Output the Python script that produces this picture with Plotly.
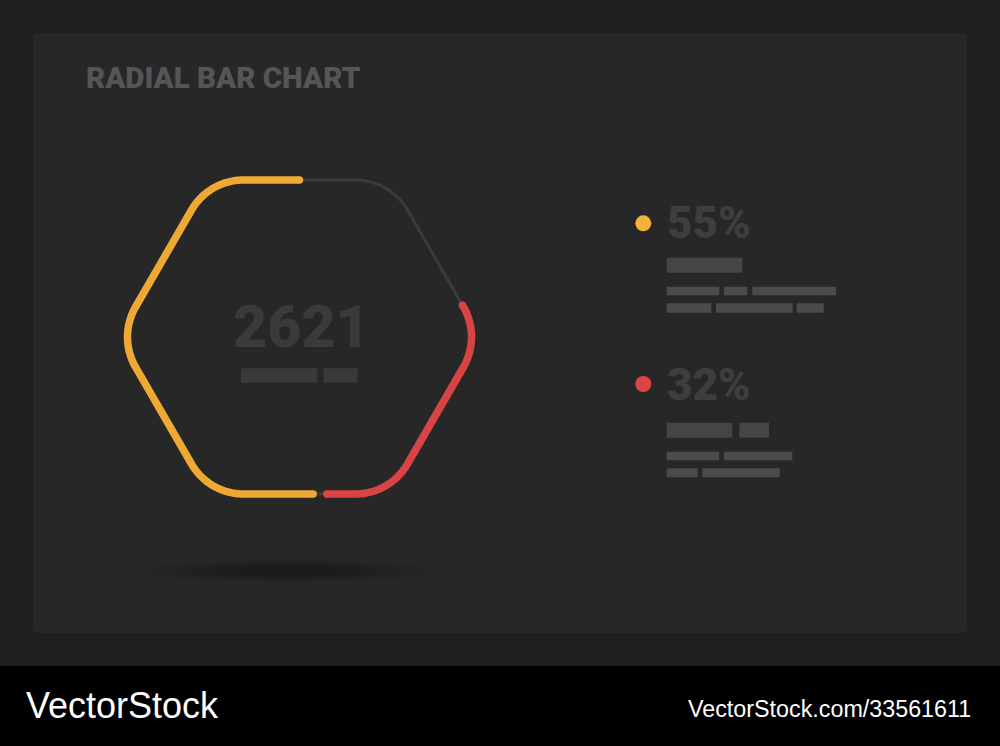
import numpy as np
import plotly.graph_objects as go

# ---------------- data ----------------
title_text = "RADIAL BAR CHART"
total_value = "2621"
series_labels = ["55%", "32%"]
series_colors = ["#EEA935", "#D84343"]
dot_colors = ["#F2B23C", "#DE4646"]
arc_share_pct = [51.3, 25.6]   # share of the ring drawn for each series
gap_pct = 1.3                  # gap between the two arcs
watermark_left = "VectorStock"
watermark_right = "VectorStock.com/33561611"

# ---------------- ring geometry (rounded hexagon) ----------------
cx, cy = 299.5, 337.0
apothem = 157.0
R = apothem / np.cos(np.pi / 6)
rc = 60.0
tlen = rc * np.tan(np.pi / 6)
angles = [120, 180, 240, 300, 0, 60]
V = [np.array([cx + R * np.cos(np.radians(g)), cy - R * np.sin(np.radians(g))]) for g in angles]
P0 = np.array([cx, cy - apothem])
pts = [P0]
n = len(V)
ctr = np.array([cx, cy])
for i in range(n):
    v = V[i]
    din = v - V[i - 1]; din /= np.linalg.norm(din)
    dout = V[(i + 1) % n] - v; dout /= np.linalg.norm(dout)
    Tin = v - tlen * din
    Tout = v + tlen * dout
    toC = ctr - v; toC /= np.linalg.norm(toC)
    C = v + (rc / np.sin(np.pi / 3)) * toC
    a0 = np.arctan2(*(Tin - C)[::-1])
    a1 = np.arctan2(*(Tout - C)[::-1])
    d = (a1 - a0 + np.pi) % (2 * np.pi) - np.pi
    for k in range(61):
        ang = a0 + d * k / 60
        pts.append(C + rc * np.array([np.cos(ang), np.sin(ang)]))
pts.append(P0)
pts = np.array(pts)
seglen = np.hypot(np.diff(pts[:, 0]), np.diff(pts[:, 1]))
s = np.concatenate([[0], np.cumsum(seglen)])
Ltot = s[-1]


def ring_segment(f0, f1):
    s0, s1 = f0 * Ltot, f1 * Ltot
    m = (s > s0) & (s < s1)
    xs = [np.interp(s0, s, pts[:, 0])] + list(pts[m, 0]) + [np.interp(s1, s, pts[:, 0])]
    ys = [np.interp(s0, s, pts[:, 1])] + list(pts[m, 1]) + [np.interp(s1, s, pts[:, 1])]
    return xs, ys


fig = go.Figure()

# track
fig.add_trace(go.Scatter(x=pts[:, 0], y=pts[:, 1], mode="lines",
                         line=dict(color="#3b3b3b", width=3, simplify=False), hoverinfo="skip"))

start = 0.0
for share, col in zip(arc_share_pct, series_colors):
    f0, f1 = start / 100, (start + share) / 100
    xs, ys = ring_segment(f0, f1)
    fig.add_trace(go.Scatter(x=xs, y=ys, mode="lines", line=dict(color=col, width=7.5, simplify=False),
                             hoverinfo="skip"))
    fig.add_trace(go.Scatter(x=[xs[0], xs[-1]], y=[ys[0], ys[-1]], mode="markers",
                             marker=dict(color=col, size=7.5, line=dict(width=0)), hoverinfo="skip"))
    start += share + gap_pct

# legend dots
legend_y = [223.3, 384.0]
fig.add_trace(go.Scatter(x=[643.3, 643.3], y=legend_y, mode="markers",
                         marker=dict(color=dot_colors, size=16, line=dict(width=0)), hoverinfo="skip"))

shapes = []
# bottom black band
shapes.append(dict(type="rect", x0=0, x1=1000, y0=666, y1=746, fillcolor="#000000",
                   line=dict(width=0), layer="below"))
# panel with rounded corners
x0p, x1p, y0p, y1p, rr = 33, 967, 33, 633, 6
panel_path = (f"M{x0p+rr},{y0p} L{x1p-rr},{y0p} Q{x1p},{y0p} {x1p},{y0p+rr} "
              f"L{x1p},{y1p-rr} Q{x1p},{y1p} {x1p-rr},{y1p} L{x0p+rr},{y1p} "
              f"Q{x0p},{y1p} {x0p},{y1p-rr} L{x0p},{y0p+rr} Q{x0p},{y0p} {x0p+rr},{y0p} Z")
shapes.append(dict(type="path", path=panel_path, fillcolor="#272727", line=dict(width=0), layer="below"))
# soft shadow under ring
for k in range(7):
    w = 150 - k * 19
    h = 11 - k * 1.2
    shapes.append(dict(type="circle", x0=287 - w, x1=287 + w, y0=571 - h, y1=571 + h,
                       fillcolor="#000000", opacity=0.035, line=dict(width=0), layer="below"))

# placeholder text bars
bars_dark = [(241, 317.3, 368.3, 382.7), (323.3, 357.7, 368.3, 382.7)]
bars_mid = [(666.7, 742.3, 257.7, 272.7), (666.7, 732.3, 422.7, 437.7), (739.3, 769, 422.7, 437.7)]
bars_small = [
    (666.7, 719.3, 286.7, 295.3), (724, 747.3, 286.7, 295.3), (752.3, 836, 286.7, 295.3),
    (666.7, 711.3, 303.3, 312.7), (716, 792.7, 303.3, 312.7), (796.7, 823.7, 303.3, 312.7),
    (666.7, 719.3, 451.7, 460.3), (724, 792.3, 451.7, 460.3),
    (666.7, 697.7, 468.3, 477.3), (702.3, 779.7, 468.3, 477.3),
]
for (a, b, c, d) in bars_dark:
    shapes.append(dict(type="rect", x0=a, x1=b, y0=c, y1=d, fillcolor="#3a3a3a", line=dict(width=0)))
for (a, b, c, d) in bars_mid:
    shapes.append(dict(type="rect", x0=a, x1=b, y0=c, y1=d, fillcolor="#454545", line=dict(width=0)))
for (a, b, c, d) in bars_small:
    shapes.append(dict(type="rect", x0=a, x1=b, y0=c, y1=d, fillcolor="#4b4b4b", line=dict(width=0)))

annotations = [
    dict(x=84, y=77.5, text=title_text, xanchor="left", yanchor="middle",
         font=dict(family="Roboto", size=29.5, color="#555555", weight=900)),
    dict(x=301, y=326, text=total_value, xanchor="center", yanchor="middle",
         font=dict(family="Roboto", size=59, color="#3a3a3a", weight=900)),
    dict(x=664.5, y=222.5, text=series_labels[0], xanchor="left", yanchor="middle",
         font=dict(family="Roboto", size=44, color="#3e3e3e", weight=900)),
    dict(x=664.5, y=385, text=series_labels[1], xanchor="left", yanchor="middle",
         font=dict(family="Roboto", size=44, color="#3e3e3e", weight=900)),
    dict(x=24, y=705, text=watermark_left, xanchor="left", yanchor="middle",
         font=dict(family="Liberation Sans", size=36, color="#ffffff")),
    dict(x=973, y=708.5, text=watermark_right, xanchor="right", yanchor="middle",
         font=dict(family="Liberation Sans", size=23.3, color="#ffffff")),
]
for an in annotations:
    an.update(xref="x", yref="y", showarrow=False)

fig.update_layout(
    width=1000, height=746, margin=dict(l=0, r=0, t=0, b=0),
    paper_bgcolor="#1f1f1f", plot_bgcolor="rgba(0,0,0,0)",
    xaxis=dict(range=[0, 1000], visible=False, fixedrange=True),
    yaxis=dict(range=[746, 0], visible=False, fixedrange=True),
    showlegend=False, shapes=shapes, annotations=annotations,
)
fig.write_html("out.html", config={"displayModeBar": False},
               post_script="document.body.style.margin='0';document.body.style.overflow='hidden';"
                           "document.body.style.background='#1f1f1f';")
